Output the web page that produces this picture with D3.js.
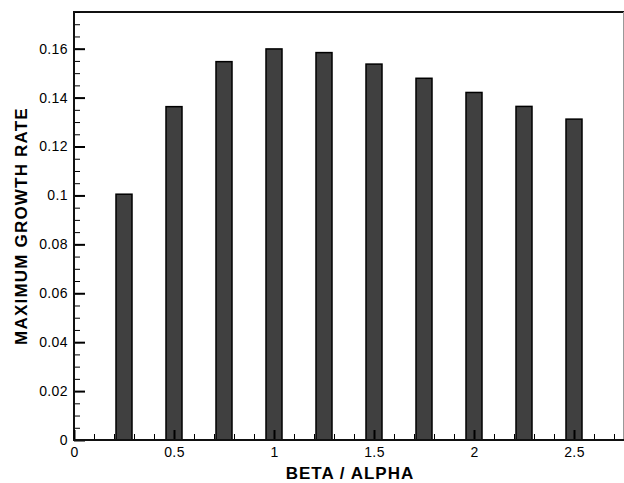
<!DOCTYPE html>
<html>
<head>
<meta charset="utf-8">
<script src="https://cdn.jsdelivr.net/npm/d3@7"></script>
<style>
  body { margin: 0; background: #fff; }
  text { font-family: "Liberation Sans", Arial, sans-serif; }
</style>
</head>
<body>
<script>
// data
var ratios = [0.25, 0.5, 0.75, 1.0, 1.25, 1.5, 1.75, 2.0, 2.25, 2.5];
var growth = [0.1005, 0.1363, 0.1547, 0.1599, 0.1584, 0.1537, 0.1479, 0.1421, 0.1364, 0.1312];
var xTicks = [0, 0.5, 1, 1.5, 2, 2.5];
var yTicks = [0, 0.02, 0.04, 0.06, 0.08, 0.1, 0.12, 0.14, 0.16];

function drawChart(){
    var width = 624, height = 483;
    var plotLeft = 74, plotTop = 12, plotRight = 624, plotBottom = 440;
    var barW = 0.08;

    var svg = d3.select("body").append("svg")
        .attr("width", width)
        .attr("height", height);

    var x = d3.scaleLinear().domain([0, 2.75]).range([plotLeft, plotRight]);
    var y = d3.scaleLinear().domain([0, 0.175]).range([plotBottom, plotTop]);

    // staplar
    svg.selectAll("rect.bar").data(ratios).enter()
        .append("rect")
        .attr("class", "bar")
        .attr("x", function(d){ return x(d - barW/2); })
        .attr("width", function(d){ return x(barW) - x(0); })
        .attr("y", function(d,i){ return y(growth[i]); })
        .attr("height", function(d,i){ return plotBottom - y(growth[i]); })
        .attr("fill", "#404040")
        .attr("stroke", "#000")
        .attr("stroke-width", 1.5);

    // ram
    svg.append("line").attr("x1", plotLeft).attr("x2", plotRight).attr("y1", plotTop).attr("y2", plotTop)
        .attr("stroke", "#111").attr("stroke-width", 2);
    svg.append("line").attr("x1", plotRight - 0.5).attr("x2", plotRight - 0.5).attr("y1", plotTop).attr("y2", plotBottom)
        .attr("stroke", "#999").attr("stroke-width", 1);

    // y-axel, ticks inat
    var yMinor = d3.range(0, 0.1751, 0.005);
    svg.append("g")
        .attr("transform", "translate(" + plotLeft + ",0)")
        .call(d3.axisRight(y).tickValues(yMinor).tickSize(6).tickFormat(""))
        .call(function(g){ g.select(".domain").remove(); g.selectAll("line").attr("stroke-width", 1); });
    var yAxis = svg.append("g")
        .attr("transform", "translate(" + plotLeft + ",0)")
        .call(d3.axisRight(y).tickValues(yTicks).tickSize(11).tickFormat(d3.format("")));
    yAxis.select(".domain").remove();
    yAxis.selectAll("line").attr("stroke-width", 2);
    yAxis.selectAll("text").attr("x", -6).attr("text-anchor", "end")
        .style("font-size", "14px").style("letter-spacing", "0.4px").attr("fill", "#000");
    svg.append("line").attr("x1", plotLeft).attr("x2", plotLeft).attr("y1", plotTop - 1).attr("y2", plotBottom + 1)
        .attr("stroke", "#111").attr("stroke-width", 2);

    // x-axel, ticks inat
    var xMinor = d3.range(0, 2.751, 0.1);
    svg.append("g")
        .attr("transform", "translate(0," + plotBottom + ")")
        .call(d3.axisTop(x).tickValues(xMinor).tickSize(6).tickFormat(""))
        .call(function(g){ g.select(".domain").remove(); g.selectAll("line").attr("stroke-width", 1); });
    var xAxis = svg.append("g")
        .attr("transform", "translate(0," + plotBottom + ")")
        .call(d3.axisTop(x).tickValues(xTicks).tickSize(10).tickFormat(d3.format("")));
    xAxis.select(".domain").remove();
    xAxis.selectAll("line").attr("stroke-width", 2);
    xAxis.selectAll("text").attr("y", 16.5).attr("dy", 0)
        .style("font-size", "14px").style("letter-spacing", "0.4px").attr("fill", "#000");
    svg.append("line").attr("x1", plotLeft - 1).attr("x2", plotRight).attr("y1", plotBottom).attr("y2", plotBottom)
        .attr("stroke", "#111").attr("stroke-width", 2);

    // axeltitlar
    svg.append("text")
        .attr("x", 350).attr("y", 479)
        .attr("text-anchor", "middle")
        .style("font-size", "17px").style("font-weight", "bold").style("letter-spacing", "1px")
        .text("BETA / ALPHA");
    svg.append("text")
        .attr("transform", "translate(27,226) rotate(-90)")
        .attr("text-anchor", "middle")
        .style("font-size", "17px").style("font-weight", "bold").style("letter-spacing", "1.2px")
        .text("MAXIMUM GROWTH RATE");
}

drawChart();
</script>
</body>
</html>
